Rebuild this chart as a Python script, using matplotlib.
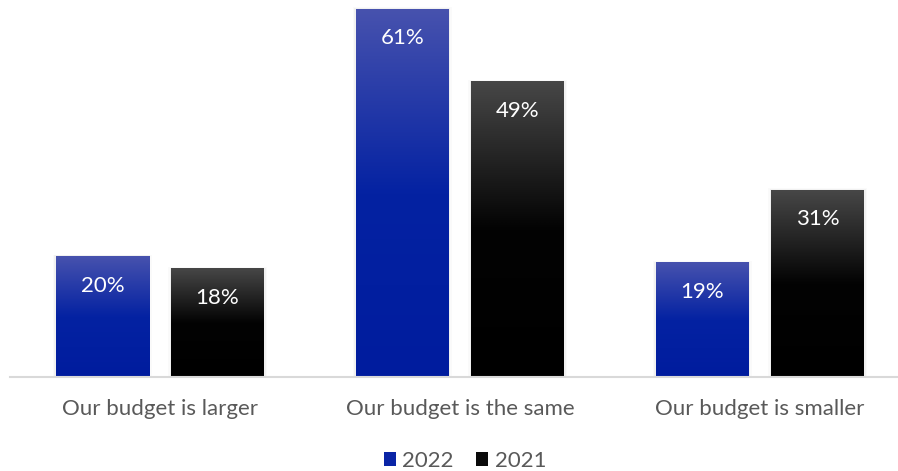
import numpy as np
import matplotlib.pyplot as plt
from matplotlib.colors import LinearSegmentedColormap
from matplotlib.patches import Rectangle

categories = ["Our budget is larger", "Our budget is the same", "Our budget is smaller"]
series_names = ["2022", "2021"]
values_2022 = [20, 61, 19]
values_2021 = [18, 49, 31]

plt.rcParams['font.family'] = ['Lato', 'DejaVu Sans']

W, H = 898, 471
fig = plt.figure(figsize=(W / 100, H / 100), dpi=100)
ax = fig.add_axes([10 / W, (H - 377) / H, 888 / W, 377 / H])

blue_cmap = LinearSegmentedColormap.from_list(
    "blue_grad", [(0.0, "#001c9e"), (0.5, "#0422a2"), (1.0, "#4752ae")])
black_cmap = LinearSegmentedColormap.from_list(
    "black_grad", [(0.0, "#000000"), (0.5, "#030303"), (1.0, "#474747")])

bar_w = 0.31
offset = 0.1917
x = np.arange(len(categories))
grad = np.linspace(0, 1, 256).reshape(-1, 1)

def gradient_bar(xc, h, cmap, label):
    x0, x1 = xc - bar_w / 2, xc + bar_w / 2
    # soft shadow
    for i, a in enumerate([0.035, 0.02]):
        d = 0.005 * (i + 1)
        ax.add_patch(Rectangle((x0 - d, 0), bar_w + 2 * d, h + 0.15 * (i + 1),
                               facecolor="#000000", alpha=a, edgecolor="none", zorder=1))
    ax.imshow(grad, cmap=cmap, origin="lower", aspect="auto",
              extent=[x0, x1, 0, h], zorder=2, interpolation="bilinear")
    ax.annotate(label, (xc, h), xytext=(0, -21), textcoords="offset points",
                ha="center", va="center", color="white", fontsize=16, zorder=3)

for i in range(len(categories)):
    gradient_bar(x[i] - offset, values_2022[i], blue_cmap, f"{values_2022[i]}%")
    gradient_bar(x[i] + offset, values_2021[i], black_cmap, f"{values_2021[i]}%")

ax.set_xlim(-0.5, -0.5 + 888 / 300)
ax.set_ylim(0, 377 / 6.03)
for s in ["top", "right", "left"]:
    ax.spines[s].set_visible(False)
ax.spines["bottom"].set_color("#d9d9d9")
ax.spines["bottom"].set_linewidth(1.5)
ax.set_yticks([])
ax.set_xticks(x)
ax.set_xticklabels(categories, fontsize=16, color="#595959")
ax.tick_params(axis="x", length=0, pad=16)

handles = [Rectangle((0, 0), 1, 1, facecolor="#0a24a6"),
           Rectangle((0, 0), 1, 1, facecolor="#0a0a0a")]
leg = fig.legend(handles, series_names, loc="center", bbox_to_anchor=(465 / W, 1 - 461 / H),
                 ncol=2, frameon=False, fontsize=16, handlelength=0.55, handleheight=0.55,
                 handletextpad=0.3, columnspacing=1.0, labelcolor="#595959")

fig.savefig("out.png", dpi=100)
